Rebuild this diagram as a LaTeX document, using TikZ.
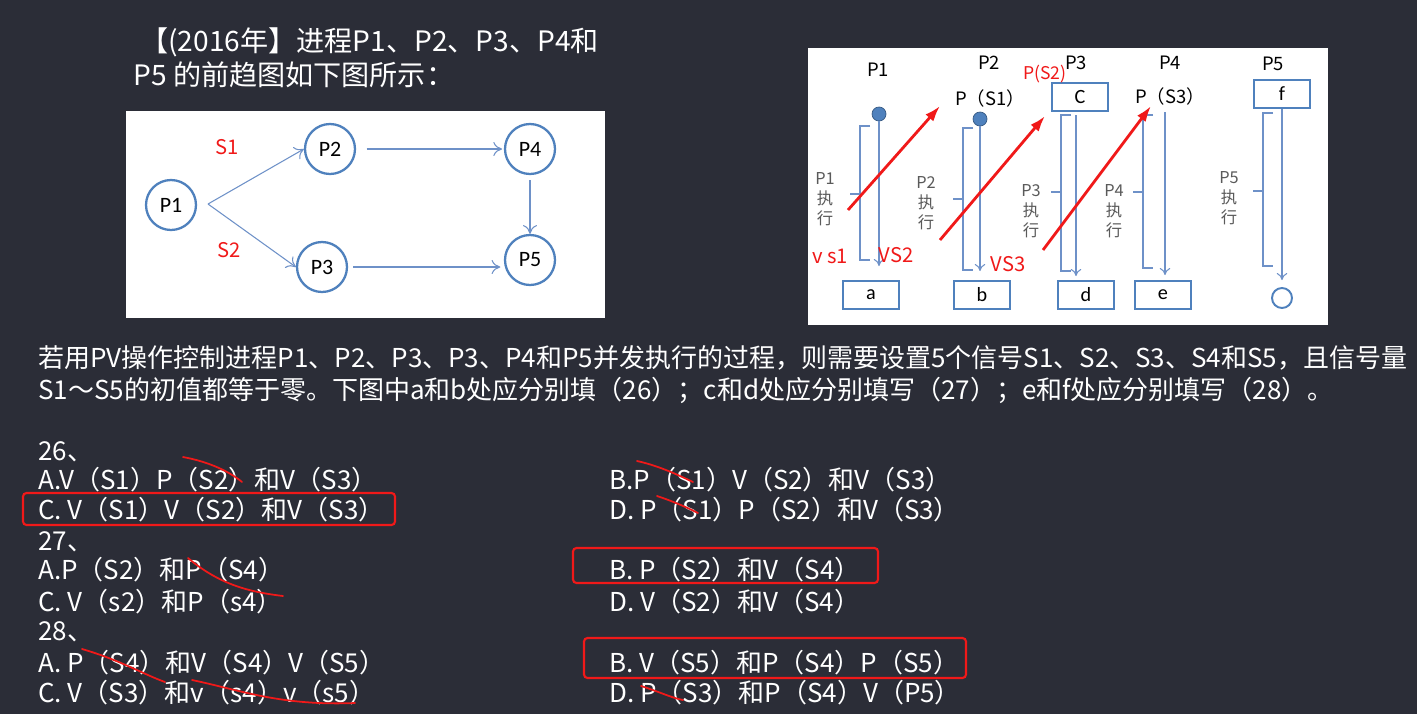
\documentclass[tikz,border=0pt]{standalone}
\usepackage{fontspec}
\setmainfont{Noto Sans CJK SC}
\newfontfamily\labelfont{Carlito}
\usetikzlibrary{arrows.meta, positioning}
\definecolor{bgSlide}{RGB}{43,45,55}
\definecolor{colorNode}{RGB}{79,129,189}
\definecolor{colorLine}{RGB}{110,145,200}
\definecolor{colorPen}{RGB}{240,25,25}
\definecolor{colorNote}{RGB}{90,90,90}
\tikzset{
  title/.style={anchor=west, inner sep=0pt, text=white, font=\fontsize{16}{16}\selectfont},
  line/.style={anchor=west, inner sep=0pt, text=white, font=\fontsize{14.8}{14.8}\selectfont},
  proc/.style={circle, draw=colorNode, line width=1.3pt, fill=white, minimum size=1cm, inner sep=0pt, font=\labelfont\fontsize{12.5}{12.5}\selectfont},
  flow/.style={-{To[length=5pt,width=8pt]}, colorLine, line width=0.6pt},
  down/.style={-{To[length=4pt,width=6pt]}, colorLine, line width=0.6pt},
  slot/.style={rectangle, draw=colorNode, line width=1.1pt, minimum width=1.12cm, minimum height=0.56cm, inner sep=0pt, font=\labelfont\fontsize{11.5}{11.5}\selectfont},
  dot/.style={circle, fill=colorNode, draw=colorNode!70!black, minimum size=0.28cm, inner sep=0pt},
  head/.style={inner sep=0pt, font=\fontsize{10.5}{10.5}\selectfont},
  note/.style={inner sep=0pt, align=center, text=colorNote, font=\fontsize{9.3}{11.3}\selectfont},
  pen/.style={inner sep=0pt, text=colorPen, font=\fontsize{11.5}{11.5}\selectfont},
  penline/.style={colorPen, line width=1pt, line cap=round},
  penarrow/.style={-{Latex[length=9pt,width=6pt]}, colorPen, line width=1.6pt},
  answerbox/.style={draw=colorPen, line width=1.2pt, rounded corners=2pt},
}
% bracket beside a process line: x, top, bottom, middle
\newcommand{\execbrace}[4]{%
  \draw[colorLine, line width=0.6pt] (#1+10,#2) -- (#1,#2) -- (#1,#3) -- (#1+10,#3);
  \draw[colorLine, line width=0.6pt] (#1,#4) -- (#1-10,#4);}

\begin{document}
\begin{tikzpicture}[x=0.02cm, y=-0.02cm]
\fill[bgSlide] (0,0) rectangle (1417,714);
\useasboundingbox (0,0) rectangle (1417,714);

\node[title] (t1) at (140,42) {【(2016年】进程P1、P2、P3、P4和};
\node[title] (t2) at (133,75) {P5 的前趋图如下图所示：};

% precedence graph
\fill[white] (126,111) rectangle (605,318);
\node[proc] (p1) at (171,205) {P1};
\node[proc] (p2) at (330,149) {P2};
\node[proc] (p3) at (322,267) {P3};
\node[proc] (p4) at (530,149) {P4};
\node[proc] (p5) at (530,260) {P5};
\coordinate (fork) at (208,204);
\draw[flow] (fork) -- (p2.west);
\draw[flow] (fork) -- (p3.west);
\draw[flow, shorten <=6pt, shorten >=1pt] (p2.east) -- (p4.west);
\draw[flow, shorten <=3pt, shorten >=2pt] (p3.east) -- (p3.east -| p5.west);
\draw[flow, shorten <=3pt] (p4.south) -- (p5.north);
\node[pen] (n1) at (227,147) {S1};
\node[pen] (n2) at (229,250) {S2};

% PV diagram
\fill[white] (808,48) rectangle (1328,325);
\node[head] (h1) at (878,70) {P1};
\node[head] (h2) at (989,63) {P2};
\node[head] (h3) at (1076,63) {P3};
\node[head] (h4) at (1170,63) {P4};
\node[head] (h5) at (1273,64) {P5};

\node[dot] (s1) at (879,114) {};
\node[slot] (a) at (871,295) {a};
\coordinate (e1) at (879,266);
\draw[down] (s1) -- (e1);
\execbrace{860}{126}{260}{194}
\node[note] (x1) at (825,199) {P1\\执\\行};

\node[head] (w1) at (990,98) {P（S1）};
\node[dot] (s2) at (980,119) {};
\node[slot] (b) at (982,295) {b};
\coordinate (e2) at (980,271);
\draw[down] (s2) -- (e2);
\execbrace{963}{128}{270}{199}
\node[note] (x2) at (926,203) {P2\\执\\行};

\node[slot] (c) at (1080,97) {C};
\node[slot] (d) at (1086,295) {d};
\coordinate (e3) at (1076,276);
\draw[down, shorten <=2pt] (c.south -| e3) -- (e3);
\execbrace{1061}{115}{271}{192}
\node[note] (x3) at (1031,211) {P3\\执\\行};

\node[head] (w3) at (1170,96) {P（S3）};
\node[slot] (e) at (1163,295) {e};
\coordinate (e4) at (1165,275);
\draw[down, shorten <=4pt] (w3.south -| e4) -- (e4);
\execbrace{1143}{115}{268}{192}
\node[note] (x4) at (1114,211) {P4\\执\\行};

\node[slot] (f) at (1282,94) {f};
\node[circle, draw=colorNode, line width=1.1pt, minimum size=0.4cm, inner sep=0pt] (o5) at (1282,298) {};
\draw[down, shorten >=4pt] (f) -- (o5);
\execbrace{1263}{113}{266}{191}
\node[note] (x5) at (1229,198) {P5\\执\\行};

% hand notes
\coordinate (r1s) at (848,210);
\coordinate (r1e) at (940,106);
\coordinate (r2s) at (940,240);
\coordinate (r2e) at (1045,116);
\coordinate (r3s) at (1043,250);
\coordinate (r3e) at (1151,106);
\draw[penarrow] (r1s) -- (r1e);
\draw[penarrow] (r2s) -- (r2e);
\draw[penarrow] (r3s) -- (r3e);
\node[pen, font=\fontsize{10}{10}\selectfont] (n3) at (1045,74) {P(S2)};
\node[pen] (n4) at (830,256) {v s1};
\node[pen] (n5) at (896,255) {VS2};
\node[pen] (n6) at (1008,264) {VS3};

% question text
\node[line] (q1) at (38,358) {若用PV操作控制进程P1、P2、P3、P3、P4和P5并发执行的过程，则需要设置5个信号S1、S2、S3、S4和S5，且信号量};
\node[line] (q2) at (38,390) {S1～S5的初值都等于零。下图中a和b处应分别填（26）；c和d处应分别填写（27）；e和f处应分别填写（28）。};

\node[line] (k26) at (38,452) {26、};
\node[line] (a26) at (38,480) {A.V（S1）P（S2）和V（S3）};
\node[line] (c26) at (38,510) {C. V（S1）V（S2）和V（S3）};
\node[line] (b26) at (609,480) {B.P（S1）V（S2）和V（S3）};
\node[line] (d26) at (609,510) {D. P（S1）P（S2）和V（S3）};
\node[line] (k27) at (38,542) {27、};
\node[line] (a27) at (38,570) {A.P（S2）和P（S4）};
\node[line] (c27) at (38,602) {C. V（s2）和P（s4）};
\node[line] (b27) at (609,570) {B. P（S2）和V（S4）};
\node[line] (d27) at (609,602) {D. V（S2）和V（S4）};
\node[line] (k28) at (38,632) {28、};
\node[line] (a28) at (38,663) {A. P（S4）和V（S4）V（S5）};
\node[line] (c28) at (38,693) {C. V（S3）和v（s4）v（s5）};
\node[line] (b28) at (609,663) {B. V（S5）和P（S4）P（S5）};
\node[line] (d28) at (609,693) {D. P（S3）和P（S4）V（P5）};

% answers marked
\draw[answerbox] (23,493) rectangle (395,525);
\draw[answerbox] (573,548) rectangle (878,583);
\draw[answerbox] (584,638) rectangle (966,678);

% strike marks
\draw[penline] (183,457) .. controls (210,462) and (230,472) .. (242,482);
\draw[penline] (188,558) .. controls (220,585) and (250,592) .. (283,596);
\draw[penline] (82,649) .. controls (120,660) and (145,675) .. (165,682);
\draw[penline] (192,680) .. controls (240,690) and (280,706) .. (355,703);
\draw[penline] (637,461) .. controls (660,466) and (680,476) .. (693,482);
\draw[penline] (657,496) .. controls (675,502) and (688,508) .. (698,513);
\draw[penline] (641,686) .. controls (660,692) and (672,698) .. (683,700);
\end{tikzpicture}
\end{document}
